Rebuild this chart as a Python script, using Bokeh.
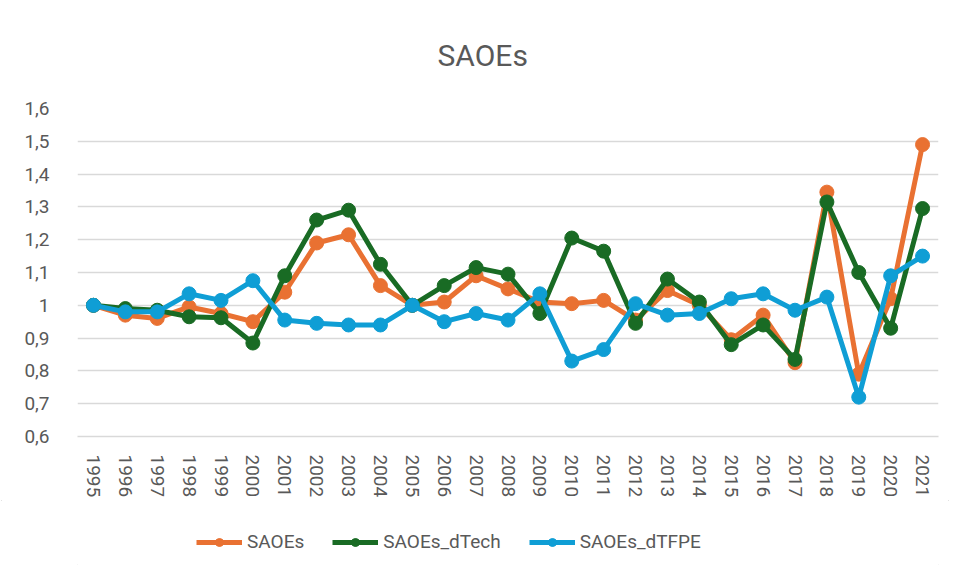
from bokeh.plotting import figure
from bokeh.models import FixedTicker, CustomJSTickFormatter, Legend, LegendItem, Range1d
from bokeh.layouts import column
from bokeh.embed import file_html
from bokeh.resources import INLINE

years = [str(y) for y in range(1995, 2022)]
saoes = [1.0, 0.97, 0.96, 0.995, 0.975, 0.95, 1.04, 1.19, 1.215, 1.06, 1.0, 1.01, 1.09, 1.05,
         1.01, 1.005, 1.015, 0.955, 1.045, 1.0, 0.895, 0.97, 0.825, 1.345, 0.79, 1.02, 1.49]
saoes_dtech = [1.0, 0.99, 0.985, 0.965, 0.962, 0.885, 1.09, 1.26, 1.29, 1.125, 1.0, 1.06, 1.115, 1.095,
               0.975, 1.205, 1.165, 0.945, 1.08, 1.01, 0.88, 0.94, 0.835, 1.315, 1.1, 0.93, 1.295]
saoes_dtfpe = [1.0, 0.98, 0.98, 1.035, 1.015, 1.075, 0.955, 0.945, 0.94, 0.94, 1.0, 0.95, 0.975, 0.955,
               1.035, 0.83, 0.865, 1.005, 0.97, 0.975, 1.02, 1.035, 0.985, 1.025, 0.72, 1.09, 1.15]
y_ticks = [0.6, 0.7, 0.8, 0.9, 1.0, 1.1, 1.2, 1.3, 1.4, 1.5, 1.6]

series = [("SAOEs", saoes, "#E97132"),
          ("SAOEs_dTech", saoes_dtech, "#196B24"),
          ("SAOEs_dTFPE", saoes_dtfpe, "#0F9ED5")]

FONT = "Roboto"
TXT = "#595959"

p = figure(width=950, height=500, x_range=years, y_range=Range1d(0.6, 1.6),
           output_backend="svg", toolbar_location=None, title="SAOEs")
p.min_border_left = 77
p.min_border_right = 12
p.min_border_top = 108
p.min_border_bottom = 62
p.outline_line_color = None

p.title.align = "left"
p.title.offset = 360
p.title.text_font = FONT
p.title.text_font_size = "30px"
p.title.text_font_style = "normal"
p.title.text_color = TXT
p.title.standoff = 71

p.yaxis.ticker = FixedTicker(ticks=y_ticks)
p.yaxis.formatter = CustomJSTickFormatter(code="return Number(tick.toFixed(1)).toString().replace('.', ',');")
p.yaxis.axis_line_color = None
p.yaxis.major_tick_line_color = None
p.yaxis.minor_tick_line_color = None
p.yaxis.major_label_standoff = 22
p.yaxis.major_label_text_font = FONT
p.yaxis.major_label_text_font_size = "19px"
p.yaxis.major_label_text_color = TXT

p.xaxis.axis_line_color = "#d9d9d9"
p.xaxis.axis_line_width = 1.5
p.xaxis.major_tick_line_color = None
p.xaxis.minor_tick_line_color = None
p.xaxis.major_label_orientation = "vertical"
p.xaxis.major_label_standoff = 12
p.xaxis.major_label_text_font = FONT
p.xaxis.major_label_text_font_size = "19px"
p.xaxis.major_label_text_color = TXT

p.xgrid.grid_line_color = None
p.ygrid.grid_line_color = "#d9d9d9"
p.ygrid.grid_line_width = 1.5

for name, vals, col in series:
    p.line(years, vals, line_color=col, line_width=5)
    p.scatter(years, vals, size=14, fill_color=col, line_color=col)

# legend strip below the chart (sample glyphs lie outside its visible range)
p2 = figure(width=950, height=66, output_backend="svg", toolbar_location=None,
            x_range=Range1d(0, 1), y_range=Range1d(0, 1))
p2.min_border = 0
p2.axis.visible = False
p2.grid.grid_line_color = None
p2.outline_line_color = None
items = []
for name, vals, col in series:
    l = p2.line([5, 6], [5, 6], line_color=col, line_width=5)
    s = p2.scatter([5], [5], size=14, fill_color=col, line_color=col)
    items.append(LegendItem(label=name, renderers=[l, s]))
legend = Legend(items=items, orientation="horizontal", location=(119, 13))
legend.label_text_font = FONT
legend.label_text_font_size = "19px"
legend.label_text_color = TXT
legend.glyph_width = 46
legend.spacing = 28
legend.border_line_color = None
legend.background_fill_alpha = 0
p2.add_layout(legend)

layout = column(p, p2, spacing=0)
layout.styles = {"outline": "1px solid #d9d9d9", "outline-offset": "-2px", "border-radius": "4px"}
open("out.html", "w").write(file_html(layout, INLINE))
